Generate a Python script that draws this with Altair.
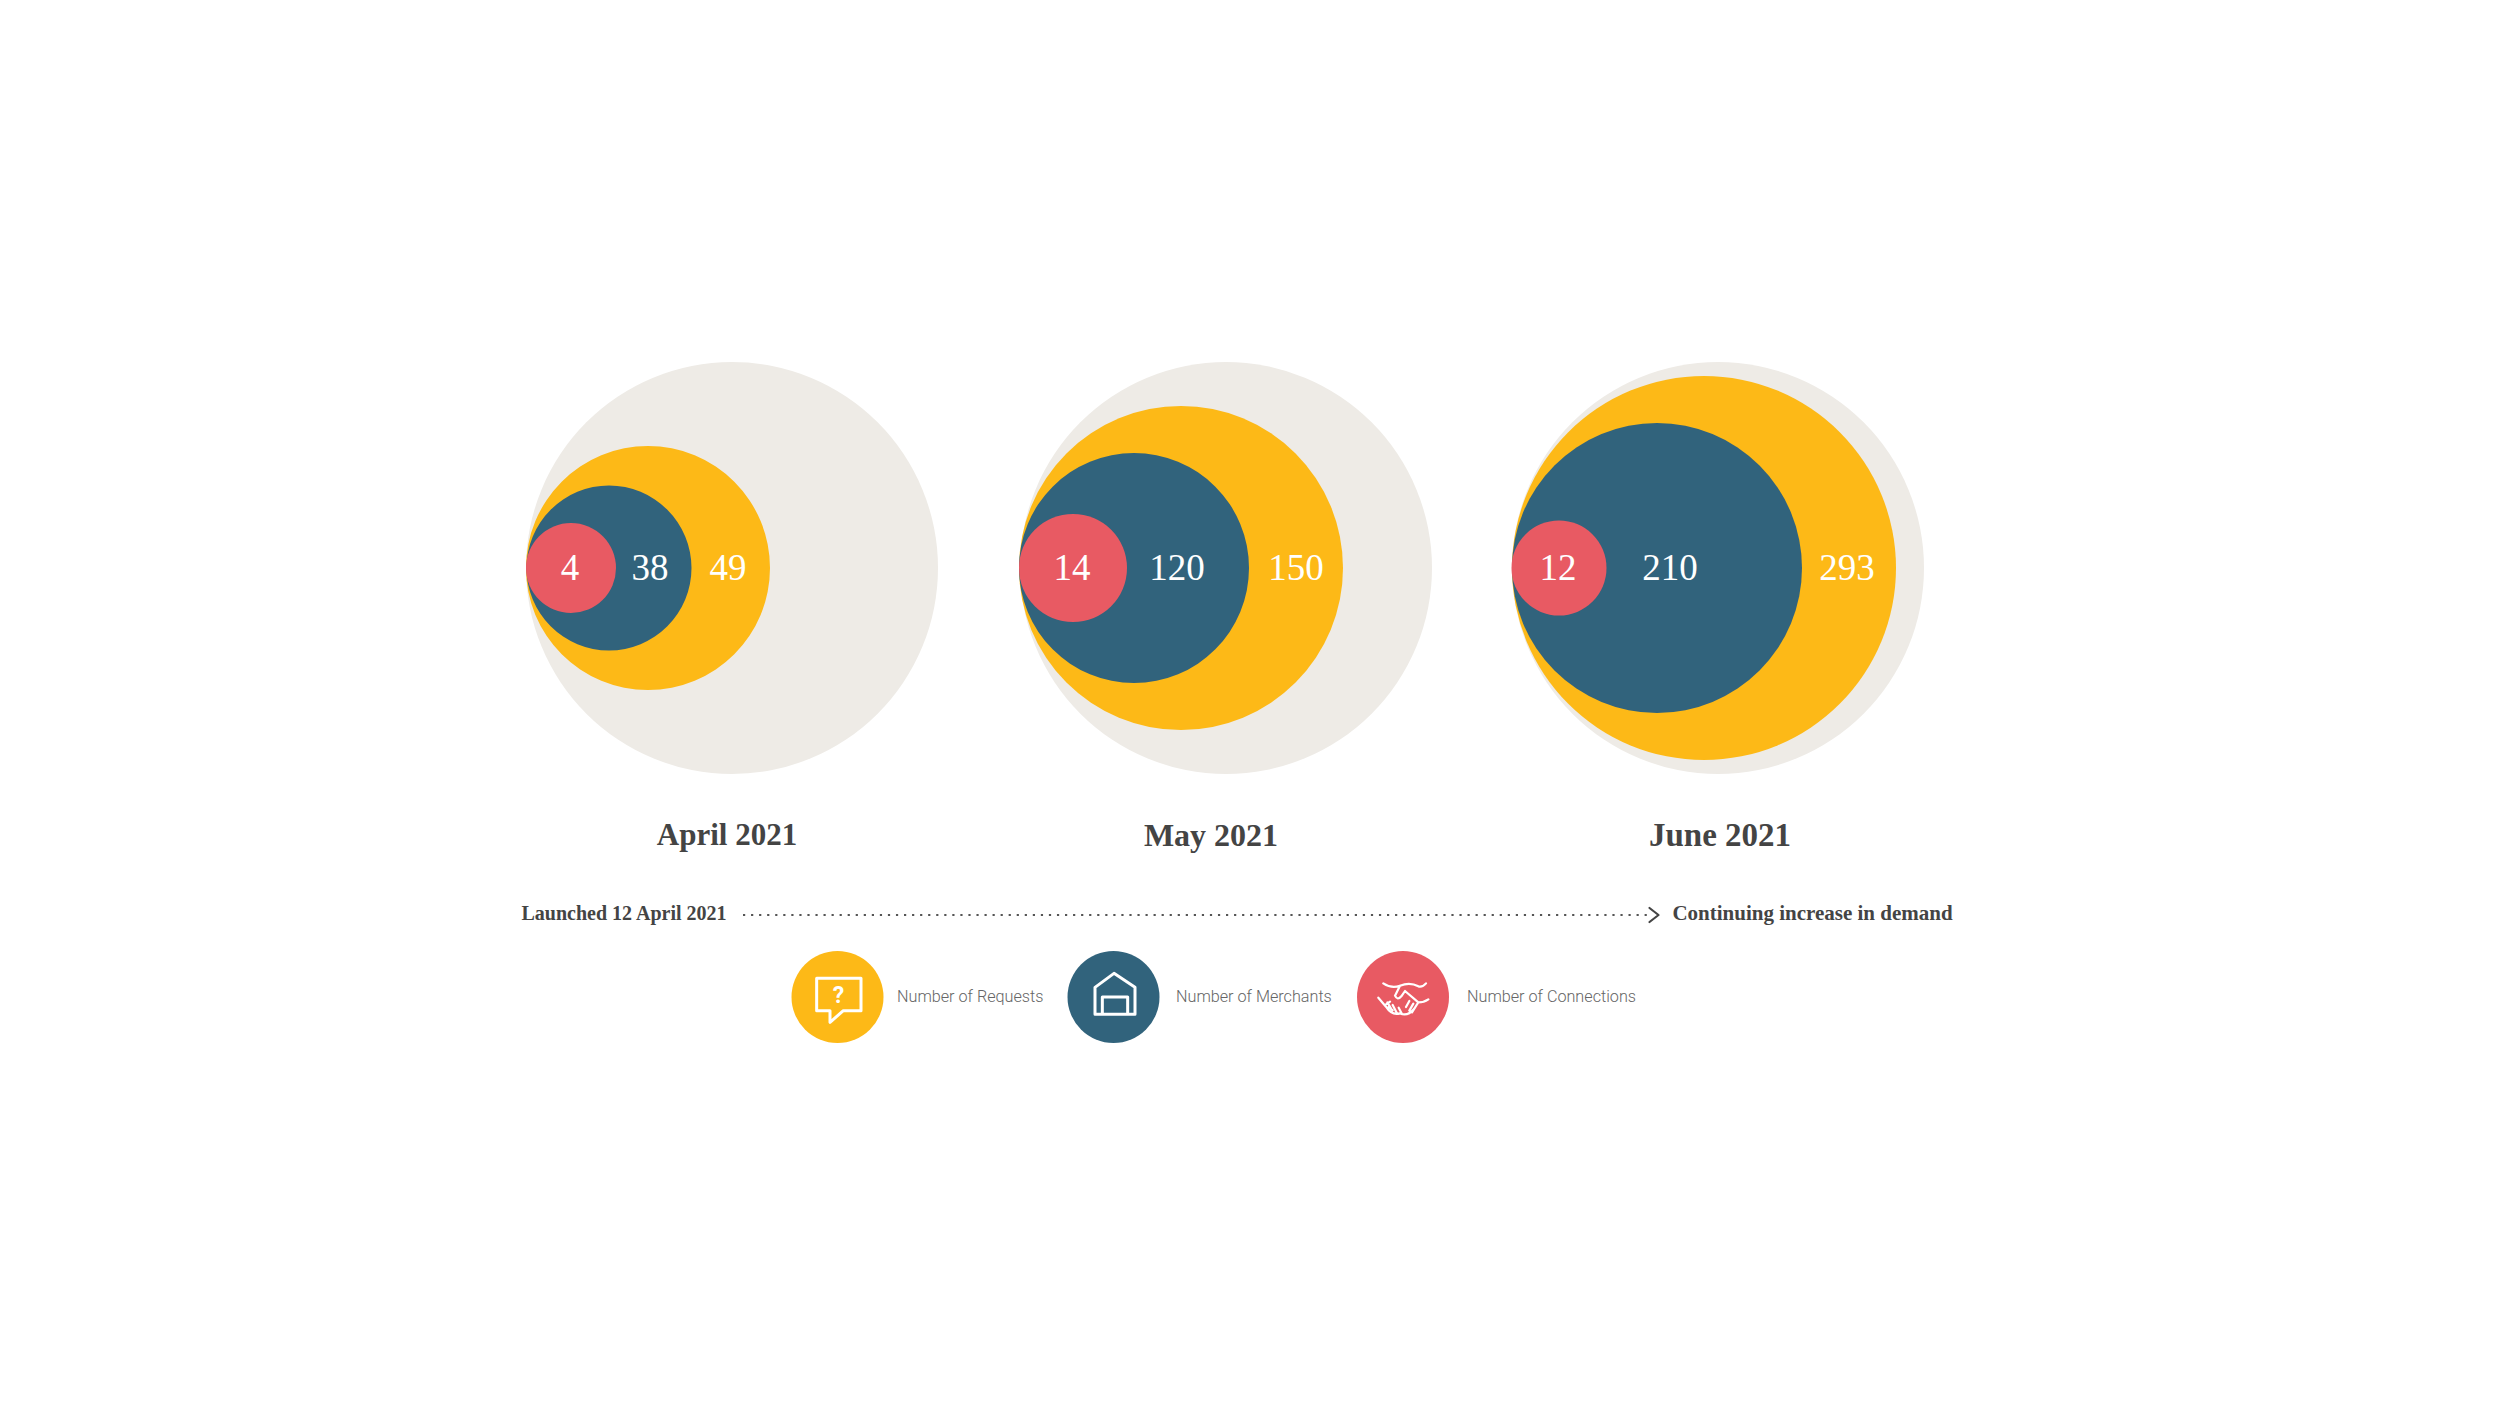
import altair as alt
import pandas as pd

months = ["April 2021", "May 2021", "June 2021"]
requests = [49, 150, 293]
merchants = [38, 120, 210]
connections = [4, 14, 12]
series = ["Number of Requests", "Number of Merchants", "Number of Connections"]
timeline = ["Launched 12 April 2021", "Continuing increase in demand"]

# drawn circles: radius and centre (page pixels)
r_grey = 206
r_req = [122, 162, 192]
r_mer = [82.5, 115, 145]
r_con = [45, 54, 47.5]
cx_grey = [732, 1226, 1718]
cx_req = [648, 1181, 1704]
cx_mer = [609, 1134, 1657]
cx_con = [571, 1073, 1559]
cy = 568
lx_req = [728, 1296, 1847]
lx_mer = [650, 1177, 1670]
lx_con = [570, 1072, 1558]
lx_month = [727, 1211, 1720]
month_font = [31, 32, 33]
timeline_font = [20, 21]

GREY, YEL, BLU, RED = "#EEEBE6", "#FDB917", "#31637C", "#E85A63"
TXT = "#444444"
SLAB = "Liberation Serif"

W, H = 2484, 1384
x_s = alt.Scale(domain=[8, 8 + W], range=[0, W], nice=False, zero=False)
y_s = alt.Scale(domain=[8, 8 + H], range=[0, H], nice=False, zero=False)
X = alt.X("x:Q", scale=x_s, axis=None)
Y = alt.Y("y:Q", scale=y_s, axis=None)

rows = []
for i in range(3):
    rows += [
        dict(x=cx_grey[i], y=cy, r=r_grey, k="grey", o=0),
        dict(x=cx_req[i], y=cy, r=r_req[i], k="req", o=1),
        dict(x=cx_mer[i], y=cy, r=r_mer[i], k="mer", o=2),
        dict(x=cx_con[i], y=cy, r=r_con[i], k="con", o=3),
    ]
legend_cx = [837.5, 1113.5, 1403]
legend_cy = 997
for lx, k in zip(legend_cx, ["req", "mer", "con"]):
    rows.append(dict(x=lx, y=legend_cy, r=46, k=k, o=4))
cdf = pd.DataFrame(rows)
cdf["s"] = (2 * cdf["r"]) ** 2

circles = alt.Chart(cdf).mark_circle(opacity=1).encode(
    x=X, y=Y,
    size=alt.Size("s:Q", scale=None, legend=None),
    color=alt.Color("k:N", scale=alt.Scale(domain=["grey", "req", "mer", "con"],
                                           range=[GREY, YEL, BLU, RED]), legend=None),
    order=alt.Order("o:Q"),
)

vals = pd.DataFrame(
    [dict(x=lx_req[i], y=cy + 1, t=str(requests[i])) for i in range(3)]
    + [dict(x=lx_mer[i], y=cy + 1, t=str(merchants[i])) for i in range(3)]
    + [dict(x=lx_con[i], y=cy + 1, t=str(connections[i])) for i in range(3)]
)
val_text = alt.Chart(vals).mark_text(font=SLAB, fontSize=37, color="white", align="center",
                                     baseline="middle").encode(x=X, y=Y, text="t:N")

mdf = pd.DataFrame(dict(x=lx_month, y=[836] * 3, t=months, f=month_font))
month_text = alt.Chart(mdf).mark_text(font=SLAB, fontWeight="bold", color=TXT,
                                      align="center", baseline="middle").encode(
    x=X, y=Y, text="t:N", size=alt.Size("f:Q", scale=None, legend=None))

tl = pd.DataFrame(dict(x=[624, 1812.5], y=[914, 914], t=timeline, f=timeline_font))
tl_text = alt.Chart(tl).mark_text(font=SLAB, fontWeight="bold", color=TXT,
                                  align="center", baseline="middle").encode(
    x=X, y=Y, text="t:N", size=alt.Size("f:Q", scale=None, legend=None))

line = alt.Chart(pd.DataFrame(dict(x=[743], x2=[1648], y=[915]))).mark_rule(
    color="#555555", strokeWidth=2.2, strokeDash=[2.2, 5.85]
).encode(x=X, x2="x2:Q", y=Y)

leg_x = [897, 1176, 1467]
ldf = pd.DataFrame(dict(x=leg_x, y=[997] * 3, t=series))
leg_text = alt.Chart(ldf).mark_text(font="Roboto", fontWeight=300, fontSize=16.2, color="#666666",
                                    align="left", baseline="middle").encode(x=X, y=Y, text="t:N")


def icon(path, ox, oy, size, width=2.6, colour="white"):
    """Outline glyph; the path is given in zoom-crop units around an origin."""
    return alt.Chart(pd.DataFrame(dict(x=[ox], y=[oy]))).mark_point(
        shape=path, size=size, filled=False, stroke=colour, strokeWidth=width,
        strokeJoin="round", strokeCap="round", opacity=1
    ).encode(x=X, y=Y)


Z = 4 / 9  # paths below are written in 3x units
bubble = icon("M110 100 L243 100 L243 197 L190 197 L150 232 L150 197 L110 197 Z", 780, 945, Z, 3)
q_mark = alt.Chart(pd.DataFrame(dict(x=[838.5], y=[996], t=["?"]))).mark_text(
    font="Roboto", fontWeight="bold", fontSize=23, color="white", align="center", baseline="middle"
).encode(x=X, y=Y, text="t:N")
house = icon("M105 127 L162 85 L225 127 L225 208 L105 208 Z M127 208 L127 156 L203 156 L203 208", 1060, 945, Z, 3)
hands = icon(
    "M100 115 Q125 132 150 122 Q180 110 205 124 Q218 127 228 115 "
    "M150 122 L135 152 Q142 168 154 154 L165 138 L205 172 Q222 172 235 163 "
    "M205 172 L192 192 Q172 216 150 205 Q125 212 108 185 L85 158 "
    "M112 172 L124 192 M128 180 L140 203 M146 188 L156 207 "
    "M178 168 L168 186 M190 176 L178 197 M200 180 L186 202 "
    "M108 178 L120 170 M128 196 L116 186",
    1350, 945, Z, 2.2)
chevron = icon("M0 -7 L9 0 L0 7", 1649.5, 915, 4, 2.2, TXT)

chart = alt.layer(circles, val_text, month_text, line, chevron, tl_text, leg_text,
                  bubble, q_mark, house, hands).properties(
    width=W, height=H, padding=0, background="white",
    autosize=alt.AutoSizeParams(type="none")
).configure_view(stroke=None)

chart.save("out.html", embed_options={"renderer": "svg", "actions": False})
